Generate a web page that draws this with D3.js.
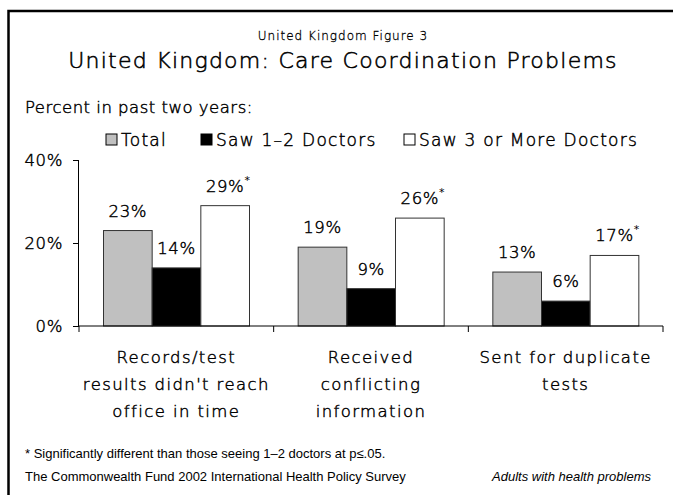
<!DOCTYPE html>
<html><head><meta charset="utf-8">
<script src="https://cdn.jsdelivr.net/npm/d3@7"></script>
<style>
body{margin:0;background:#fff}svg{display:block}
.t{font-family:'DejaVu Sans',sans-serif;font-weight:200;fill:#000;stroke:#000;stroke-width:0.45px}
</style>
</head><body>
<svg id="c" width="673" height="495"></svg>
<script>
const categories = [
  ["Records/test", "results didn't reach", "office in time"],
  ["Received", "conflicting", "information"],
  ["Sent for duplicate", "tests"]
];
const seriesNames = ["Total", "Saw 1\u20132 Doctors", "Saw 3 or More Doctors"];
const seriesColors = ["#c0c0c0", "#000000", "#ffffff"];
const total = [23, 19, 13];
const saw12 = [14, 9, 6];
const saw3 = [29, 26, 17];
const significant = [true, true, true];
const yTicks = [0, 20, 40];

const svg = d3.select("#c");
const A = "'Liberation Sans', Arial, sans-serif";

svg.append("rect").attr("x", 8.5).attr("y", 11).attr("width", 680).attr("height", 500)
  .attr("fill", "#fff").attr("stroke", "#000").attr("stroke-width", 2.5);

svg.append("text").attr("class", "t").attr("x", 343).attr("y", 40).attr("text-anchor", "middle")
  .attr("font-size", 12).attr("letter-spacing", 1.0).style("stroke-width", "0.3px")
  .text("United Kingdom Figure 3");
svg.append("text").attr("class", "t").attr("x", 343).attr("y", 68).attr("text-anchor", "middle")
  .attr("font-size", 22).attr("letter-spacing", 1.25).style("stroke-width", "0.55px")
  .text("United Kingdom: Care Coordination Problems");
svg.append("text").attr("class", "t").attr("x", 25).attr("y", 113)
  .attr("font-size", 16.5).attr("letter-spacing", 0.5)
  .text("Percent in past two years:");

// legend
const legX = [106, 201, 404];
seriesNames.forEach((n, i) => {
  svg.append("rect").attr("x", legX[i]).attr("y", 134).attr("width", 11).attr("height", 11)
    .attr("fill", seriesColors[i]).attr("stroke", "#000").attr("stroke-width", 1);
  svg.append("text").attr("class", "t").attr("x", legX[i] + 15).attr("y", 146)
    .attr("font-size", 17).attr("letter-spacing", 1.25).text(n);
});

const x0 = d3.scaleBand().domain(d3.range(categories.length)).range([79, 663]);
const x1 = d3.scaleBand().domain(d3.range(3)).range([24.5, 170.5]);
const y = d3.scaleLinear().domain([0, 40]).range([326, 160]);

const series = [total, saw12, saw3];
series.forEach((vals, si) => {
  svg.append("g").selectAll("rect").data(vals).enter().append("rect")
    .attr("x", (d, i) => x0(i) + x1(si))
    .attr("y", d => y(d))
    .attr("width", x1.bandwidth())
    .attr("height", d => y(0) - y(d))
    .attr("fill", seriesColors[si]).attr("stroke", "#333").attr("stroke-width", 1);
  vals.forEach((d, i) => {
    const cx = x0(i) + x1(si) + x1.bandwidth() / 2;
    const t = svg.append("text").attr("class", "t")
      .attr("x", cx).attr("y", y(d) - 14)
      .attr("text-anchor", "middle")
      .attr("font-size", 16.5).attr("letter-spacing", 0.6)
      .text(d + "%");
    if (si === 2 && significant[i]) {
      const bb = t.node().getBBox();
      svg.append("text").attr("x", bb.x + bb.width).attr("y", y(d) - 22)
        .attr("font-family", "'DejaVu Sans', sans-serif").attr("font-size", 11).text("*");
    }
  });
});

// y axis
const yAxis = d3.axisLeft(y).tickValues(yTicks).tickFormat(d => d + "%").tickSize(6).tickPadding(10);
const ya = svg.append("g").attr("transform", "translate(79,0)").call(yAxis);
ya.select(".domain").attr("d", "M-0.5," + y(40) + "V" + y(0)).attr("stroke", "#000");
ya.selectAll("text").attr("class", "t").attr("font-family", null).attr("font-size", 16.5)
  .attr("letter-spacing", 0.6);

// x axis
const xa = svg.append("g").attr("transform", "translate(0," + y(0) + ")");
xa.append("line").attr("x1", 79).attr("x2", 663).attr("stroke", "#000");
const bounds = x0.domain().map(i => x0(i)).concat([x0.range()[1]]);
xa.selectAll(null).data(bounds).enter().append("line")
  .attr("x1", d => d).attr("x2", d => d).attr("y1", 0).attr("y2", 6).attr("stroke", "#000");

categories.forEach((lines, i) => {
  const t = svg.append("text").attr("class", "t").attr("text-anchor", "middle")
    .attr("font-size", 16.5).attr("letter-spacing", 1.4);
  lines.forEach((l, k) => {
    t.append("tspan").attr("x", x0(i) + x0.bandwidth() / 2).attr("y", 363 + k * 27).text(l);
  });
});

svg.append("text").attr("x", 25).attr("y", 458).attr("font-family", A).attr("font-size", 13)
  .text("* Significantly different than those seeing 1\u20132 doctors at p\u2264.05.");
svg.append("text").attr("x", 25).attr("y", 481).attr("font-family", A).attr("font-size", 13)
  .text("The Commonwealth Fund 2002 International Health Policy Survey");
svg.append("text").attr("x", 651).attr("y", 481).attr("text-anchor", "end")
  .attr("font-family", A).attr("font-size", 13).attr("font-style", "italic")
  .text("Adults with health problems");
</script>
</body></html>
